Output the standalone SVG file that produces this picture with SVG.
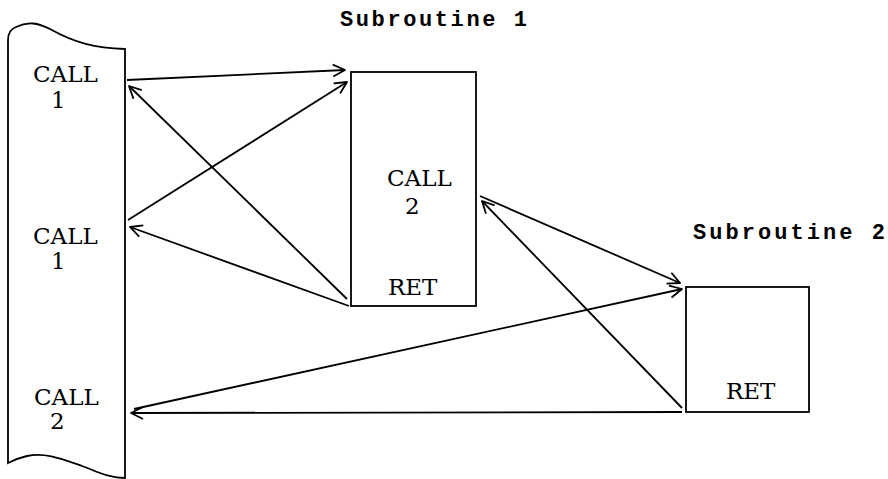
<svg xmlns="http://www.w3.org/2000/svg" width="888" height="479" viewBox="0 0 888 479">
<style>
.box{fill:#fff;stroke:#000;stroke-width:1.8}
.lbl{font-family:"DejaVu Serif","Liberation Serif",serif;font-size:23px;fill:#000}
.ttl{font-family:"Liberation Mono",monospace;font-size:22px;font-weight:bold;fill:#000}
.ln{fill:none;stroke:#000;stroke-width:1.8;marker-end:url(#ah)}
</style>
<defs>
<marker id="ah" viewBox="-14 -8 16 16" refX="0" refY="0" markerWidth="16" markerHeight="16" orient="auto" markerUnits="userSpaceOnUse">
<path d="M-12,-6 L0,0 L-12,6" fill="none" stroke="#000" stroke-width="1.8" stroke-linejoin="round"/>
</marker>
</defs>
<rect width="888" height="479" fill="#fff"/>
<g id="main">
<path class="box" d="M125 49 L125 478 C108 478 96 471 82 466 C62 459 45 452 27 456 C18 458 12 461 8 463 L8 40 Q8 30 16 27 C28 21 38 23 50 29 C75 43 95 48 125 49 Z"/>
<text class="lbl" x="33" y="82">CALL</text>
<text class="lbl" x="51" y="108">1</text>
<text class="lbl" x="33" y="244">CALL</text>
<text class="lbl" x="51" y="269">1</text>
<text class="lbl" x="34" y="405">CALL</text>
<text class="lbl" x="50" y="429">2</text>
</g>
<g id="sub1">
<text class="ttl" x="340" y="26" textLength="187" lengthAdjust="spacing">Subroutine 1</text>
<rect class="box" x="351" y="72" width="125" height="234"/>
<text class="lbl" x="387" y="186">CALL</text>
<text class="lbl" x="405" y="214">2</text>
<text class="lbl" x="388" y="295">RET</text>
</g>
<g id="sub2">
<text class="ttl" x="693" y="239" textLength="192" lengthAdjust="spacing">Subroutine 2</text>
<rect class="box" x="686" y="287" width="123" height="125"/>
<text class="lbl" x="726" y="399">RET</text>
</g>
<g id="connectors">
<line class="ln" x1="127" y1="80" x2="345" y2="70"/>
<line class="ln" x1="347" y1="299" x2="129" y2="86"/>
<line class="ln" x1="128" y1="220" x2="347" y2="82"/>
<line class="ln" x1="349" y1="306" x2="130" y2="227"/>
<line class="ln" x1="480" y1="196" x2="680" y2="283"/>
<line class="ln" x1="682" y1="408" x2="482" y2="201"/>
<line class="ln" x1="134" y1="409" x2="682" y2="289"/>
<line class="ln" x1="682" y1="412" x2="131" y2="413"/>
</g>
</svg>
